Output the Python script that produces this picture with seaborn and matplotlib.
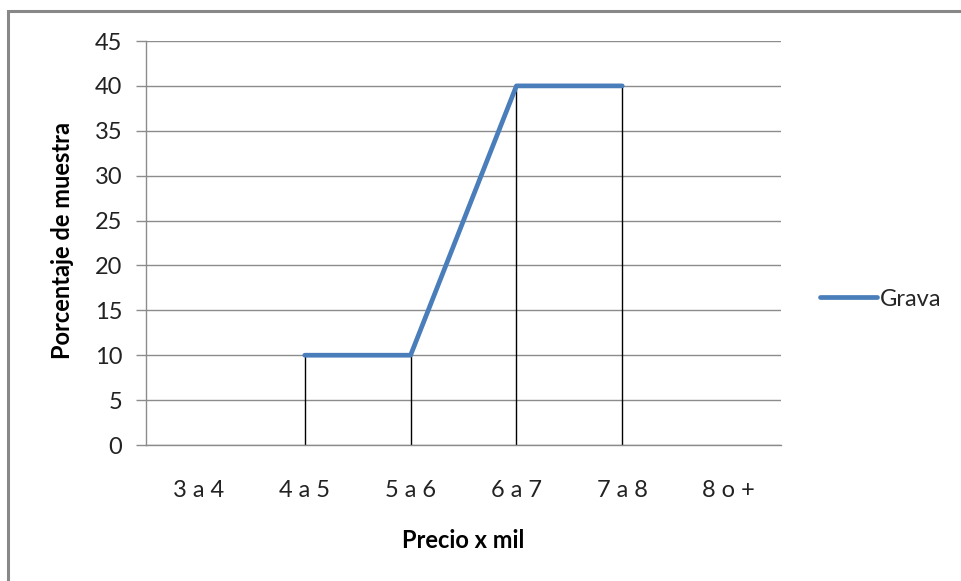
import numpy as np
import pandas as pd
import matplotlib
matplotlib.use("Agg")
import matplotlib.pyplot as plt
import seaborn as sns
from matplotlib.patches import Rectangle

# Price ranges (thousands) and share of the sample for "Grava"
categories = ["3 a 4", "4 a 5", "5 a 6", "6 a 7", "7 a 8", "8 o +"]
grava = [np.nan, 10, 10, 40, 40, np.nan]
y_ticks = [0, 5, 10, 15, 20, 25, 30, 35, 40, 45]

sns.set_theme(style="white")
plt.rcParams["font.family"] = ["Lato", "DejaVu Sans"]

FS = 17
LINE_COLOR = "#4a7ebb"
GRID_COLOR = "#8c8c8c"

df = pd.DataFrame({"pos": np.arange(len(categories)), "Grava": grava})

fig = plt.figure(figsize=(9.61, 5.81), dpi=100)
fig.patch.set_facecolor("white")

# outer chart frame (only top and left edges fall inside the image)
fig.add_artist(Rectangle((8 / 961, -0.1), 1.2, 1 - 11 / 581 + 0.1,
                         transform=fig.transFigure, fill=False,
                         edgecolor="#888888", linewidth=2.2))

ax = fig.add_axes([146 / 961, 1 - 445 / 581, (781 - 146) / 961, (445 - 41) / 581])

# drop lines from each point to the category axis
valid = df.dropna()
ax.vlines(valid["pos"], 0, valid["Grava"], colors="black", linewidth=1, zorder=2)

sns.lineplot(data=df, x="pos", y="Grava", ax=ax, color=LINE_COLOR,
             linewidth=3.4, zorder=3, legend=False)

ax.set_xlim(-0.5, len(categories) - 0.5)
ax.set_ylim(0, 45)
ax.set_yticks(y_ticks)
ax.set_xticks(np.arange(len(categories)))
ax.set_xticklabels(categories)

ax.grid(axis="y", color=GRID_COLOR, linewidth=1)
ax.grid(axis="x", visible=False)
ax.set_axisbelow(True)

for side in ["top", "right"]:
    ax.spines[side].set_visible(False)
for side in ["left", "bottom"]:
    ax.spines[side].set_color(GRID_COLOR)
    ax.spines[side].set_linewidth(1)

ax.tick_params(axis="y", which="major", left=True, length=7, width=1,
               color=GRID_COLOR, labelsize=FS, pad=10, labelcolor="#222222")
ax.tick_params(axis="x", which="major", bottom=False, labelsize=FS,
               pad=19, labelcolor="#222222")

ax.set_xlabel("Precio x mil", fontsize=FS, fontweight="bold", color="black")
ax.xaxis.set_label_coords(0.5, (445 - 540) / 404)
ax.xaxis.label.set_va("center")

ax.set_ylabel("Porcentaje de muestra", fontsize=FS, fontweight="bold",
              color="black")
ax.yaxis.set_label_coords((62 - 146) / 635, 0.507)
ax.yaxis.label.set_va("center")
ax.yaxis.label.set_ha("center")

handle = plt.Line2D([], [], color=LINE_COLOR, linewidth=3.4)
fig.legend([handle], ["Grava"], loc="center left",
           bbox_to_anchor=(820 / 961, 1 - 299 / 581), frameon=False,
           fontsize=FS, handlelength=2.4, handletextpad=0.15,
           borderpad=0, borderaxespad=0)

fig.savefig("out.png", dpi=100, facecolor="white")
